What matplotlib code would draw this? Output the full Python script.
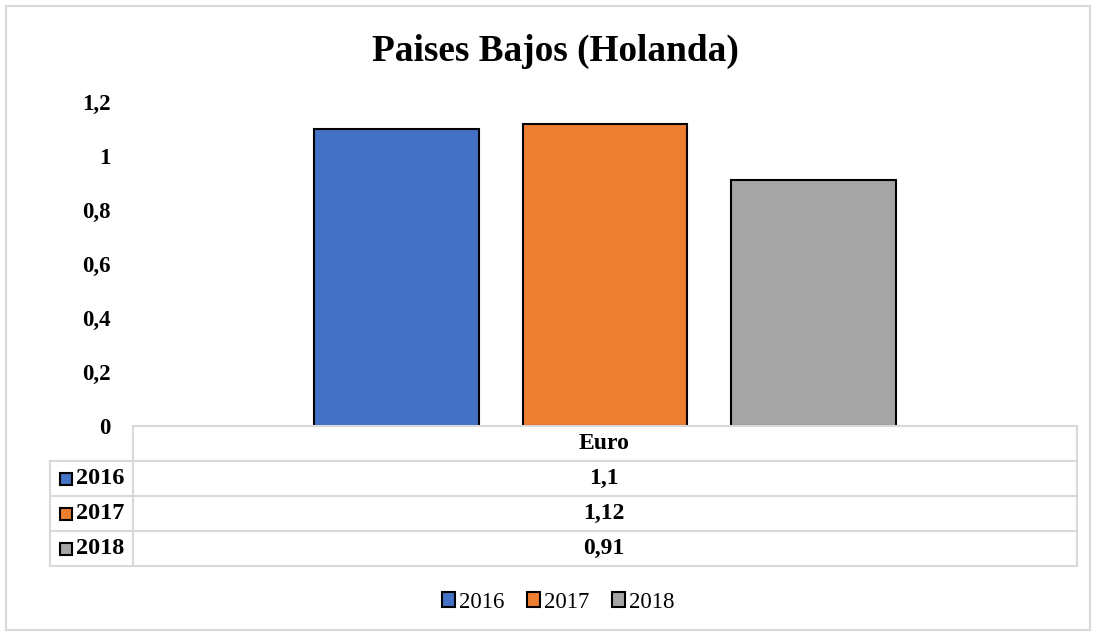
import matplotlib
matplotlib.use("Agg")
import matplotlib.pyplot as plt
from matplotlib.patches import Rectangle
from matplotlib.lines import Line2D

title = "Paises Bajos (Holanda)"
category = "Euro"
series = ["2016", "2017", "2018"]
values = [1.1, 1.12, 0.91]
value_labels = ["1,1", "1,12", "0,91"]
colors = ["#4472C4", "#ED7D31", "#A5A5A5"]
yticks = [0, 0.2, 0.4, 0.6, 0.8, 1.0, 1.2]
ytick_labels = ["0", "0,2", "0,4", "0,6", "0,8", "1", "1,2"]

W, H = 1097, 636
fig = plt.figure(figsize=(W / 100, H / 100), dpi=100)
serif = "Liberation Serif"

def fx(px):
    return px / W

def fy(py):
    return 1 - py / H

# outer chart border
fig.add_artist(Rectangle((fx(6), fy(630)), fx(1084), 624 / H, transform=fig.transFigure,
                         fill=False, edgecolor="#D9D9D9", linewidth=1.5))

ax = fig.add_axes([fx(133), fy(426), fx(1077 - 133), (426 - 102) / H])
offsets = [-0.221, 0.0, 0.221]
for off, v, c, s in zip(offsets, values, colors, series):
    ax.bar(off, v, width=0.174, color=c, edgecolor="black", linewidth=1.5, label=s, zorder=3)
ax.set_xlim(-0.5, 0.5)
ax.set_ylim(0, 1.2)
ax.set_yticks(yticks)
ax.set_yticklabels(ytick_labels, fontfamily=serif, fontweight="bold", fontsize=16.5)
ax.tick_params(axis="y", length=0, pad=16)
ax.set_xticks([])
for sp in ax.spines.values():
    sp.set_visible(False)

fig.text(fx(555), fy(51), title, ha="center", va="center", fontfamily=serif,
         fontweight="bold", fontsize=26.8)

# data table
lc = "#D9D9D9"
lw = 1.5
rows_y = [426, 461, 496, 531, 566]
def hline(x0, x1, y):
    fig.add_artist(Line2D([fx(x0), fx(x1)], [fy(y), fy(y)], transform=fig.transFigure,
                          color=lc, linewidth=lw))
def vline(x, y0, y1):
    fig.add_artist(Line2D([fx(x), fx(x)], [fy(y0), fy(y1)], transform=fig.transFigure,
                          color=lc, linewidth=lw))
hline(133, 1077, rows_y[0])
for y in rows_y[1:]:
    hline(50, 1077, y)
vline(133, rows_y[0], rows_y[-1])
vline(1077, rows_y[0], rows_y[-1])
vline(50, rows_y[1], rows_y[-1])

fig.text(fx(604), fy((rows_y[0] + rows_y[1]) / 2), category, ha="center", va="center",
         fontfamily=serif, fontweight="bold", fontsize=17)
for i, (s, lab, c) in enumerate(zip(series, value_labels, colors)):
    yc = (rows_y[i + 1] + rows_y[i + 2]) / 2
    fig.text(fx(604), fy(yc), lab, ha="center", va="center",
             fontfamily=serif, fontweight="bold", fontsize=17)
    fig.add_artist(Rectangle((fx(60), fy(yc + 6)), fx(12), 12 / H, transform=fig.transFigure,
                             facecolor=c, edgecolor="black", linewidth=1.5))
    fig.text(fx(76), fy(yc), s, ha="left", va="center",
             fontfamily=serif, fontweight="bold", fontsize=17.5)

# legend
handles = [Rectangle((0, 0), 1, 1, facecolor=c, edgecolor="black", linewidth=1.5) for c in colors]
leg = fig.legend(handles, series, loc="center", bbox_to_anchor=(fx(558), fy(602)), ncol=3,
                 frameon=False, prop={"family": serif, "size": 16.5}, handlelength=0.58,
                 handleheight=0.58, handletextpad=0.15, columnspacing=1.0)

fig.savefig("out.png", dpi=100)
